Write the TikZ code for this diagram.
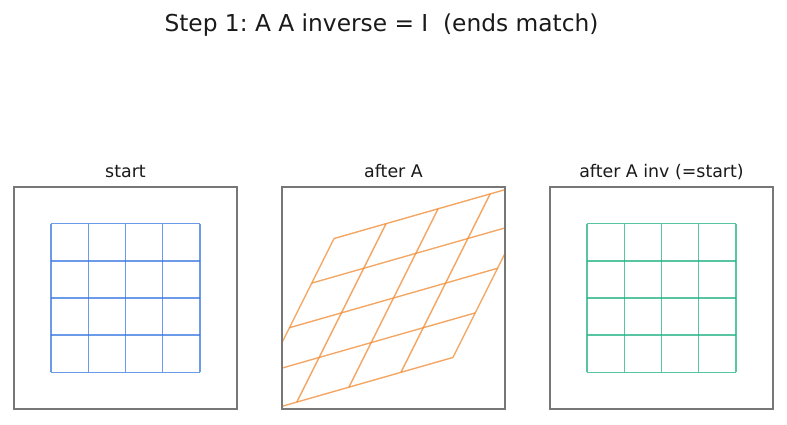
\documentclass[tikz,border=0pt]{standalone}
\usepackage{fontspec}
\setmainfont{DejaVu Sans}
\usetikzlibrary{positioning}
\frenchspacing
\definecolor{azulRejilla}{HTML}{3A78E0}
\definecolor{naranjaRejilla}{HTML}{F08A30}
\definecolor{verdeRejilla}{HTML}{1FB283}
\definecolor{grisMarco}{HTML}{777777}
\definecolor{tinta}{HTML}{1A1A1A}
\colorlet{colStart}{azulRejilla}
\colorlet{colAfter}{naranjaRejilla}
\colorlet{colBack}{verdeRejilla}
\tikzset{
  marcoPanel/.style={
    draw=grisMarco, line width=1.2pt, inner sep=0pt, outer sep=0pt,
    minimum width=223pt, minimum height=222pt
  },
  tituloPanel/.style={font=\fontsize{17.4pt}{21pt}\selectfont, text=tinta, inner sep=0pt},
  tituloGeneral/.style={font=\fontsize{23.3pt}{28pt}\selectfont, text=tinta, inner sep=0pt},
  lineaRejilla/.style={line width=1.4pt, opacity=0.75},
  lineaStart/.style={lineaRejilla, colStart},
  lineaAfter/.style={lineaRejilla, colAfter},
  lineaBack/.style={lineaRejilla, colBack},
}

\begin{document}
\begin{tikzpicture}[x=1pt, y=1pt]
    \useasboundingbox (0,0) rectangle (787,424);

    \node[marcoPanel] (start) at (125.5,126) {};
    \node[marcoPanel, right=45pt of start] (afterA) {};
    \node[marcoPanel, right=45pt of afterA] (afterInv) {};

    \node[tituloPanel, above=10pt of start, anchor=base] (tStart) {start};
    \node[tituloPanel, above=10pt of afterA, anchor=base] (tAfterA) {after A};
    \node[tituloPanel, above=10pt of afterInv, anchor=base] (tAfterInv) {after A inv (=start)};
    \node[tituloGeneral, anchor=base] (tGeneral) at (381.5,392) {Step 1: A A inverse = I\ \ (ends match)};

    % cuadricula original
    \begin{scope}[shift={(start.center)}, x=37.17pt, y=37.17pt]
      \foreach \k in {-2,...,2} {
        \draw[lineaStart] (\k,-2) -- (\k,2);
        \draw[lineaStart] (-2,\k) -- (2,\k);
      }
    \end{scope}

    % despues de aplicar A
    \begin{scope}
      \clip (afterA.south west) rectangle (afterA.north east);
      \begin{scope}[shift={(afterA.center)}, x=37.17pt, y=37.17pt,
                    cm={1.4,0.4,0.6,1.2,(0,0)}]
        \foreach \k in {-2,...,2} {
          \draw[lineaAfter] (\k,-2) -- (\k,2);
          \draw[lineaAfter] (-2,\k) -- (2,\k);
        }
      \end{scope}
    \end{scope}
    \draw[draw=grisMarco, line width=1.2pt] (afterA.south west) rectangle (afterA.north east);

    % de vuelta con A inversa
    \begin{scope}[shift={(afterInv.center)}, x=37.17pt, y=37.17pt]
      \foreach \k in {-2,...,2} {
        \draw[lineaBack] (\k,-2) -- (\k,2);
        \draw[lineaBack] (-2,\k) -- (2,\k);
      }
    \end{scope}
\end{tikzpicture}
\end{document}
